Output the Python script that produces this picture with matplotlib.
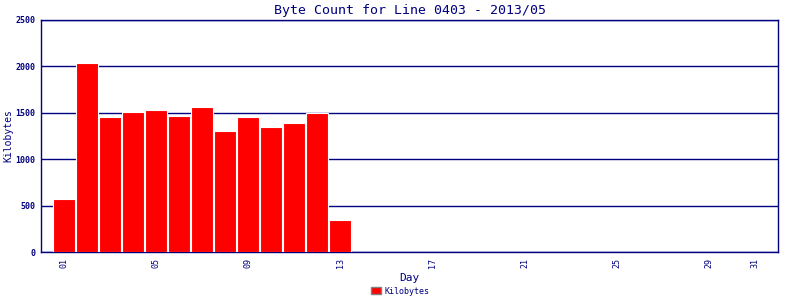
import matplotlib
matplotlib.use('Agg')
import matplotlib.pyplot as plt
from matplotlib.patches import Patch

# 일별 바이트 수 (KB)
days = list(range(1, 14))
kilobytes = [571, 2038, 1455, 1509, 1533, 1466, 1566, 1304, 1455, 1347, 1390, 1494, 345]
tick_days = [1, 5, 9, 13, 17, 21, 25, 29, 31]
tick_labels = ['01', '05', '09', '13', '17', '21', '25', '29', '31']
y_ticks = [0, 500, 1000, 1500, 2000, 2500]

navy = '#000080'
mono = 'DejaVu Sans Mono'

fig = plt.figure(figsize=(8, 3), dpi=100)
ax = fig.add_axes([41 / 800, 1 - 252 / 300, 737 / 800, 232 / 300])

ax.bar(days, kilobytes, width=0.96, color='#ff0000', edgecolor='white', linewidth=0.8, zorder=3)

ax.set_xlim(0, 32)
ax.set_ylim(0, 2500)
ax.set_yticks(y_ticks)
ax.set_yticklabels([str(v) for v in y_ticks], fontsize=6, family=mono, color=navy, fontweight='bold')
ax.set_xticks(tick_days)
ax.set_xticklabels(tick_labels, rotation=90, fontsize=6, family=mono, color=navy)
ax.tick_params(length=0, pad=4)
ax.grid(axis='y', color=navy, linewidth=1, zorder=1)

for s in ax.spines.values():
    s.set_color(navy)
    s.set_linewidth(1)

ax.set_title('Byte Count for Line 0403 - 2013/05', fontsize=9.5, family=mono, color=navy, pad=4)
ax.set_xlabel('Day', fontsize=8, family=mono, color=navy, labelpad=4)
fig.text(8 / 800, 1 - 136 / 300, 'Kilobytes', rotation=90, ha='center', va='center',
         fontsize=7, family=mono, color=navy)

handles = [Patch(facecolor='#ff0000', edgecolor='gray', label='Kilobytes')]
fig.legend(handles=handles, loc='lower center', bbox_to_anchor=(0.5, -0.01), frameon=False,
           prop={'family': mono, 'size': 6}, handlelength=1.2, handleheight=1.0, handletextpad=0.4,
           labelcolor=navy)

fig.savefig('out.png', dpi=100)
